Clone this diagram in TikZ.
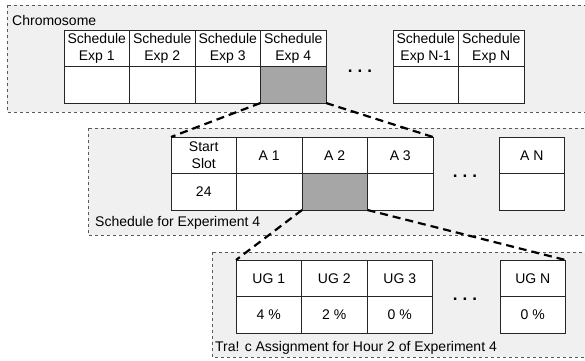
\documentclass[tikz,border=0pt]{standalone}
\usepackage{fontspec}
\setmainfont{Liberation Sans}
\usetikzlibrary{positioning}
\definecolor{panelgray}{HTML}{F0F0F0}
\definecolor{selgray}{HTML}{A6A6A6}
\tikzset{
  cell/.style={draw=black!85, fill=white, minimum width=65.5pt, minimum height=36.5pt,
    inner sep=0pt, outer sep=0pt, align=center, font=\fontsize{14}{16.5}\selectfont},
  selcell/.style={cell, fill=selgray},
  panel/.style={draw=black!65, dashed, fill=panelgray},
  panellabel/.style={anchor=west, inner sep=0pt, font=\fontsize{14}{16.5}\selectfont},
  moredots/.style={anchor=base, inner sep=0pt, font=\fontsize{17}{18}\selectfont\bfseries},
  zoomline/.style={line width=2.2pt, dash pattern=on 8pt off 5pt}
}
\begin{document}
\begin{tikzpicture}[x=1pt, y=-1pt]
    \useasboundingbox (0,0) rectangle (585,360);
    \clip (0,0) rectangle (585,360);

    % Chromosome
    \draw[panel] (7,5) rectangle (592,112);
    \node[panellabel] (chromlbl) at (12,20) {Chromosome};
    \node[cell, anchor=north west] (sch1) at (64,30) {Schedule\\Exp 1};
    \node[cell, right=0pt of sch1] (sch2) {Schedule\\Exp 2};
    \node[cell, right=0pt of sch2] (sch3) {Schedule\\Exp 3};
    \node[cell, right=0pt of sch3] (sch4) {Schedule\\Exp 4};
    \node[cell, below=0pt of sch1] (gene1) {};
    \node[cell, below=0pt of sch2] (gene2) {};
    \node[cell, below=0pt of sch3] (gene3) {};
    \node[selcell, below=0pt of sch4] (gene4) {};
    \node[moredots] (dots1) at (360,72) {.\hspace{5pt}.\hspace{5pt}.};
    \node[cell, anchor=north west] (schM) at (393,30) {Schedule\\Exp N-1};
    \node[cell, right=0pt of schM] (schN) {Schedule\\Exp N};
    \node[cell, below=0pt of schM] (geneM) {};
    \node[cell, below=0pt of schN] (geneN) {};

    % Schedule for experiment 4
    \draw[panel] (88,128) rectangle (592,235);
    \node[panellabel] (schedlbl) at (95,223) {Schedule for Experiment 4};
    \node[cell, anchor=north west] (start) at (171,137) {Start\\Slot};
    \node[cell, right=0pt of start] (a1) {A 1};
    \node[cell, right=0pt of a1] (a2) {A 2};
    \node[cell, right=0pt of a2] (a3) {A 3};
    \node[cell, below=0pt of start] (slot) {24};
    \node[cell, below=0pt of a1] (hour1) {};
    \node[selcell, below=0pt of a2] (hour2) {};
    \node[cell, below=0pt of a3] (hour3) {};
    \node[moredots] (dots2) at (465,177) {.\hspace{5pt}.\hspace{5pt}.};
    \node[cell, anchor=north west] (aN) at (499,137) {A N};
    \node[cell, below=0pt of aN] (hourN) {};

    % Traffic assignment
    \draw[panel] (212,252) rectangle (592,357);
    \node[panellabel] (traflbl) at (215,348) {Tra! c Assignment for Hour 2 of Experiment 4};
    \node[cell, anchor=north west] (ug1) at (236,260) {UG 1};
    \node[cell, right=0pt of ug1] (ug2) {UG 2};
    \node[cell, right=0pt of ug2] (ug3) {UG 3};
    \node[cell, below=0pt of ug1] (pct1) {4 \%};
    \node[cell, below=0pt of ug2] (pct2) {2 \%};
    \node[cell, below=0pt of ug3] (pct3) {0 \%};
    \node[moredots] (dots3) at (465,300) {.\hspace{5pt}.\hspace{5pt}.};
    \node[cell, anchor=north west] (ugN) at (500,260) {UG N};
    \node[cell, below=0pt of ugN] (pctN) {0 \%};

    % Zoom lines
    \draw[zoomline] (gene4.south west) -- (start.north west);
    \draw[zoomline] (gene4.south east) -- (a3.north east);
    \draw[zoomline] (hour2.south west) -- (ug1.north west);
    \draw[zoomline] (hour2.south east) -- (ugN.north east);
\end{tikzpicture}
\end{document}
